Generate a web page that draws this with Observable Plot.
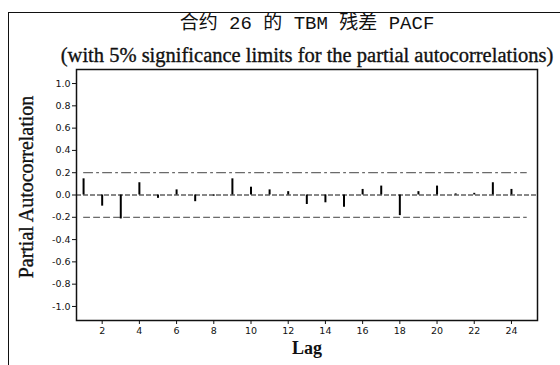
<!DOCTYPE html>
<html><head><meta charset="utf-8">
<script src="https://cdn.jsdelivr.net/npm/d3@7"></script>
<script src="https://cdn.jsdelivr.net/npm/@observablehq/plot@0.6"></script>
<style>
html,body{margin:0;padding:0;background:#fff;width:560px;height:365px;overflow:hidden;}
#wrap{position:relative;width:560px;height:365px;}
#border{position:absolute;left:8px;top:12px;width:560px;height:360px;border-left:1.5px solid #111;border-top:1.5px solid #111;}
#chart{position:absolute;left:0;top:0;}
</style></head>
<body><div id="wrap"><div id="border"></div><div id="chart"></div></div>
<script>
const titleText = "合约 26 的 TBM 残差 PACF";
const subtitleText = "(with 5% significance limits for the partial autocorrelations)";
const xLabel = "Lag";
const yLabel = "Partial Autocorrelation";
const lags = [1,2,3,4,5,6,7,8,9,10,11,12,13,14,15,16,17,18,19,20,21,22,23,24];
const pacf = [0.145,-0.10,-0.215,0.11,-0.03,0.046,-0.06,-0.01,0.145,0.07,0.046,0.03,-0.085,-0.07,-0.11,0.05,0.08,-0.185,0.03,0.08,0.01,0.015,0.11,0.05];
const sigLimit = 0.2;
const limitSpan = [1, 24.8];
const xTicks = [2,4,6,8,10,12,14,16,18,20,22,24];
const yTicks = [-1.0,-0.8,-0.6,-0.4,-0.2,0.0,0.2,0.4,0.6,0.8,1.0];

const data = lags.map((l,i)=>({lag:l, v:pacf[i]}));
const upper = limitSpan.map(x=>({x, y: sigLimit}));
const lower = limitSpan.map(x=>({x, y: -sigLimit}));

const chart = Plot.plot({
  width: 560, height: 365,
  marginLeft: 76, marginRight: 23, marginTop: 69, marginBottom: 45,
  style: {background: "transparent", fontFamily: "DejaVu Sans", fontSize: "9.5px", color: "#111"},
  x: {domain: [0.62, 25.4], ticks: xTicks, tickSize: 4, label: null},
  y: {domain: [-1.126, 1.126], ticks: yTicks, tickSize: 4, tickFormat: d => d.toFixed(1), label: null},
  marks: [
    Plot.frame({stroke: "#111", strokeWidth: 1.5}),
    Plot.axisX({ticks: xTicks, tickSize: 4, tickPadding: 3, fontSize: 9.5}),
    Plot.axisY({ticks: yTicks, tickSize: 4, tickPadding: 2, tickFormat: d => d.toFixed(1), fontSize: 9.5}),
    Plot.ruleY([0], {stroke: "#111", strokeWidth: 1, strokeDasharray: "5,2"}),
    Plot.line(upper, {x: "x", y: "y", stroke: "#444", strokeWidth: 1, strokeDasharray: "9,4,2,4"}),
    Plot.line(lower, {x: "x", y: "y", stroke: "#444", strokeWidth: 1, strokeDasharray: "6,4"}),
    Plot.ruleX(data, {x: "lag", y1: 0, y2: "v", stroke: "#000", strokeWidth: 2}),
    Plot.text([titleText], {frameAnchor: "top", dy: -54, fontSize: 19, fontFamily: "Liberation Mono, Noto Sans CJK SC", fill: "#111"}),
    Plot.text([subtitleText], {frameAnchor: "top", dy: -22, fontSize: 20.5, fontFamily: "Liberation Serif", fill: "#111", stroke: "#111", strokeWidth: 0.35}),
    Plot.text([xLabel], {frameAnchor: "bottom", dy: 33, fontSize: 18, fontWeight: "bold", fontFamily: "Liberation Serif", fill: "#111"}),
    Plot.text([yLabel], {frameAnchor: "left", dx: -50, dy: -8, rotate: -90, textAnchor: "middle", fontSize: 20, fontFamily: "Liberation Serif", fill: "#111", stroke: "#111", strokeWidth: 0.35})
  ]
});
document.getElementById("chart").appendChild(chart);
</script></body></html>
